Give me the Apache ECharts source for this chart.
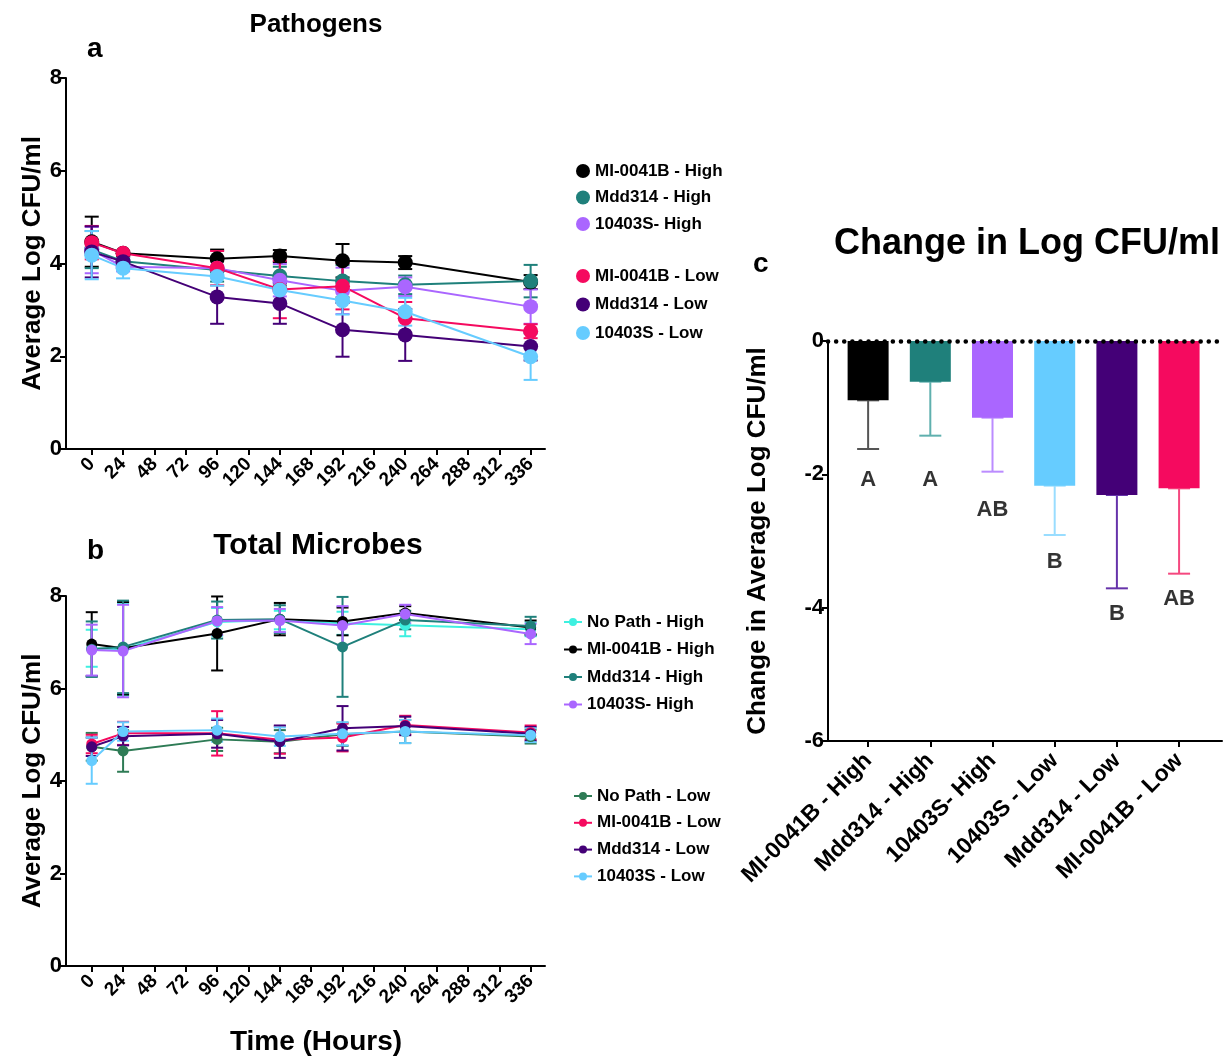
<!DOCTYPE html>
<html>
<head>
<meta charset="utf-8">
<script src="https://cdn.jsdelivr.net/npm/echarts@6/dist/echarts.min.js"></script>
<style>
  html, body { margin: 0; padding: 0; background: #fff; }
  #chart { width: 1225px; height: 1057px; }
</style>
</head>
<body>
<div id="chart"></div>
<script>
// time points (hours) and axis ticks
var hours = [0, 24, 96, 144, 192, 240, 336];
var hourTicks = [0, 24, 48, 72, 96, 120, 144, 168, 192, 216, 240, 264, 288, 312, 336];

// panel a - pathogens (mean, sd)
var aNames = ['MI-0041B - High', 'Mdd314 - High', '10403S- High', 'MI-0041B - Low', 'Mdd314 - Low', '10403S - Low'];
var aMean = [
  [4.47, 4.22, 4.10, 4.16, 4.06, 4.02, 3.60],
  [4.30, 4.05, 3.86, 3.73, 3.62, 3.54, 3.62],
  [4.29, 3.93, 3.90, 3.64, 3.41, 3.50, 3.07],
  [4.45, 4.22, 3.90, 3.44, 3.51, 2.82, 2.54],
  [4.25, 4.04, 3.28, 3.14, 2.57, 2.46, 2.21],
  [4.18, 3.90, 3.72, 3.43, 3.20, 2.96, 1.99]
];
var aErr = [
  [0.54, 0.05, 0.20, 0.13, 0.36, 0.14, 0.15],
  [0.40, 0.10, 0.25, 0.20, 0.35, 0.20, 0.35],
  [0.50, 0.10, 0.20, 0.35, 0.50, 0.20, 0.37],
  [0.36, 0.05, 0.37, 0.62, 0.50, 0.35, 0.15],
  [0.55, 0.10, 0.58, 0.44, 0.58, 0.56, 0.30],
  [0.52, 0.22, 0.20, 0.25, 0.30, 0.30, 0.50]
];

// panel b - total microbes (mean, sd)
var bNames = ['No Path - High', 'MI-0041B - High', 'Mdd314 - High', '10403S- High',
              'No Path - Low', 'MI-0041B - Low', 'Mdd314 - Low', '10403S - Low'];
var bMean = [
  [6.87, 6.85, 7.44, 7.48, 7.41, 7.37, 7.28],
  [6.96, 6.87, 7.19, 7.50, 7.45, 7.63, 7.32],
  [6.85, 6.90, 7.48, 7.50, 6.90, 7.48, 7.35],
  [6.83, 6.81, 7.46, 7.47, 7.36, 7.61, 7.18],
  [4.74, 4.65, 4.90, 4.85, 5.01, 5.07, 4.96],
  [4.80, 5.03, 5.03, 4.89, 4.94, 5.21, 5.05],
  [4.74, 4.97, 5.02, 4.85, 5.14, 5.19, 5.02],
  [4.44, 5.07, 5.10, 4.96, 5.02, 5.07, 4.99]
];
var bErr = [
  [0.40, 1.00, 0.30, 0.20, 0.25, 0.24, 0.15],
  [0.69, 1.00, 0.80, 0.35, 0.30, 0.15, 0.15],
  [0.60, 1.00, 0.40, 0.30, 1.08, 0.20, 0.20],
  [0.55, 1.00, 0.30, 0.25, 0.42, 0.20, 0.22],
  [0.30, 0.45, 0.25, 0.25, 0.25, 0.25, 0.15],
  [0.20, 0.25, 0.48, 0.30, 0.30, 0.20, 0.15],
  [0.20, 0.20, 0.30, 0.35, 0.48, 0.20, 0.15],
  [0.50, 0.20, 0.25, 0.20, 0.25, 0.25, 0.15]
];

// panel c - change in log CFU
var cCats = ['MI-0041B - High', 'Mdd314 - High', '10403S- High', '10403S - Low', 'Mdd314 - Low', 'MI-0041B - Low'];
var cMean = [-0.89, -0.61, -1.15, -2.17, -2.31, -2.21];
var cErr = [0.73, 0.81, 0.81, 0.74, 1.40, 1.28];
var cLetters = ['A', 'A', 'AB', 'B', 'B', 'AB'];
var cLetterY = [-2.08, -2.08, -2.53, -3.31, -4.09, -3.87];

var colA = ['#000000', '#1f807b', '#aa66ff', '#f50a5f', '#440077', '#66ccff'];
var colB = ['#3ef0e0', '#000000', '#1f807b', '#aa66ff', '#2e7b55', '#f50a5f', '#440077', '#66ccff'];
var barColors = ['#000000', '#1f807b', '#aa66ff', '#66ccff', '#440077', '#f50a5f'];
var barErrColors = ['#555555', '#5fb0ae', '#bb8cff', '#99ddff', '#6633aa', '#f5487f'];

var FONT = '"Liberation Sans", Arial, sans-serif';
var chart = echarts.init(document.getElementById('chart'));

function errRender(capW, colorFn) {
  return function (params, api) {
    var x = api.value(0);
    var p1 = api.coord([x, api.value(2)]);
    var p2 = api.coord([x, api.value(1)]);
    var st = { stroke: colorFn ? colorFn(params.dataIndex) : api.visual('color'), lineWidth: 2 };
    return {
      type: 'group',
      children: [
        { type: 'line', shape: { x1: p1[0], y1: p1[1], x2: p2[0], y2: p2[1] }, style: st },
        { type: 'line', shape: { x1: p1[0] - capW / 2, y1: p1[1], x2: p1[0] + capW / 2, y2: p1[1] }, style: st },
        { type: 'line', shape: { x1: p2[0] - capW / 2, y1: p2[1], x2: p2[0] + capW / 2, y2: p2[1] }, style: st }
      ]
    };
  };
}

function timeAxis(gridIndex) {
  return {
    type: 'value', gridIndex: gridIndex, min: -19.7, max: 347,
    axisLine: { onZero: false, lineStyle: { color: '#000', width: 2 } },
    axisTick: { customValues: hourTicks, length: 6, lineStyle: { color: '#000', width: 2 } },
    axisLabel: { customValues: hourTicks, rotate: 45, margin: 12, color: '#000', fontFamily: FONT, fontWeight: 'bold', fontSize: 19 },
    splitLine: { show: false }
  };
}

function logAxis(gridIndex) {
  return {
    type: 'value', gridIndex: gridIndex, min: 0, max: 8, interval: 2,
    name: 'Average Log CFU/ml', nameLocation: 'middle', nameGap: 19,
    nameTextStyle: { color: '#000', fontFamily: FONT, fontWeight: 'bold', fontSize: 26 },
    axisLine: { show: true, onZero: false, lineStyle: { color: '#000', width: 2 } },
    axisTick: { show: true, length: 6, lineStyle: { color: '#000', width: 2 } },
    axisLabel: { margin: 4, color: '#000', fontFamily: FONT, fontWeight: 'bold', fontSize: 22 },
    splitLine: { show: false }
  };
}

var series = [];

// panel a: error bars then lines
aNames.forEach(function (name, i) {
  series.push({
    name: name + ' sd', type: 'custom', xAxisIndex: 0, yAxisIndex: 0,
    itemStyle: { color: colA[i] }, renderItem: errRender(14), z: 2,
    encode: { x: 0, y: [1, 2] },
    data: hours.map(function (h, k) { return [h, aMean[i][k] - aErr[i][k], aMean[i][k] + aErr[i][k]]; })
  });
});
aNames.forEach(function (name, i) {
  series.push({
    name: name, type: 'line', xAxisIndex: 0, yAxisIndex: 0,
    symbol: 'circle', symbolSize: 15, z: 3,
    itemStyle: { color: colA[i] }, lineStyle: { color: colA[i], width: 2 },
    data: hours.map(function (h, k) { return [h, aMean[i][k]]; })
  });
});

// panel b
bNames.forEach(function (name, i) {
  series.push({
    name: name + ' sd', type: 'custom', xAxisIndex: 1, yAxisIndex: 1,
    itemStyle: { color: colB[i] }, renderItem: errRender(12), z: 2,
    encode: { x: 0, y: [1, 2] },
    data: hours.map(function (h, k) { return [h, bMean[i][k] - bErr[i][k], bMean[i][k] + bErr[i][k]]; })
  });
});
bNames.forEach(function (name, i) {
  series.push({
    name: name, type: 'line', xAxisIndex: 1, yAxisIndex: 1,
    symbol: 'circle', symbolSize: 11, z: 3,
    itemStyle: { color: colB[i] }, lineStyle: { color: colB[i], width: 2 },
    data: hours.map(function (h, k) { return [h, bMean[i][k]]; })
  });
});

// panel c
series.push({
  name: 'change sd', type: 'custom', xAxisIndex: 2, yAxisIndex: 2, z: 2,
  renderItem: errRender(22, function (idx) { return barErrColors[idx]; }),
  encode: { x: 0, y: [1, 2] },
  data: cMean.map(function (v, k) { return [k, v - cErr[k], v]; })
});
series.push({
  name: 'change', type: 'bar', xAxisIndex: 2, yAxisIndex: 2, barWidth: 41, z: 3,
  itemStyle: { color: function (p) { return barColors[p.dataIndex]; } },
  data: cMean.map(function (v, k) { return [k, v]; }),
  markLine: {
    silent: true, symbol: 'none', label: { show: false },
    lineStyle: { color: '#000', type: [0.1, 8], width: 4.5, cap: 'round' },
    data: [{ yAxis: 0 }]
  }
});
series.push({
  name: 'letters', type: 'scatter', xAxisIndex: 2, yAxisIndex: 2, symbolSize: 0,
  label: {
    show: true, position: 'inside', color: '#000', fontFamily: FONT, fontWeight: 'bold', fontSize: 22,
    formatter: function (p) { return cLetters[p.dataIndex]; }
  },
  data: cLetterY.map(function (v, k) { return [k, v]; })
});

var legendText = { color: '#000', fontFamily: FONT, fontWeight: 'bold', fontSize: 17, lineHeight: 20 };

var option = {
  animation: false,
  backgroundColor: '#fff',
  title: [
    { text: 'Pathogens', left: 311, top: 7, textAlign: 'center', textStyle: { fontFamily: FONT, fontWeight: 'bold', fontSize: 26, color: '#000' } },
    { text: 'a', left: 82, top: 30, textStyle: { fontFamily: FONT, fontWeight: 'bold', fontSize: 28, color: '#000' } },
    { text: 'Total Microbes', left: 313, top: 526, textAlign: 'center', textStyle: { fontFamily: FONT, fontWeight: 'bold', fontSize: 30, color: '#000' } },
    { text: 'b', left: 82, top: 532, textStyle: { fontFamily: FONT, fontWeight: 'bold', fontSize: 28, color: '#000' } },
    { text: 'Time (Hours)', left: 311, top: 1023, textAlign: 'center', textStyle: { fontFamily: FONT, fontWeight: 'bold', fontSize: 28, color: '#000' } },
    { text: 'Change in Log CFU/ml', left: 1022, top: 221, textAlign: 'center', textStyle: { fontFamily: FONT, fontWeight: 'bold', fontSize: 36, color: '#000' } },
    { text: 'c', left: 748, top: 245, textStyle: { fontFamily: FONT, fontWeight: 'bold', fontSize: 28, color: '#000' } }
  ],
  legend: [
    { data: aNames.slice(0, 3), orient: 'vertical', left: 571, top: 156, icon: 'circle', itemWidth: 14, itemHeight: 14, itemGap: 6.5, textStyle: legendText, selectedMode: false },
    { data: aNames.slice(3), orient: 'vertical', left: 571, top: 261, icon: 'circle', itemWidth: 14, itemHeight: 14, itemGap: 8.5, textStyle: legendText, selectedMode: false },
    { data: bNames.slice(0, 4), orient: 'vertical', left: 558, top: 607, itemWidth: 18, itemHeight: 10, itemGap: 7.5, textStyle: legendText, selectedMode: false },
    { data: bNames.slice(4), orient: 'vertical', left: 568, top: 781, itemWidth: 18, itemHeight: 10, itemGap: 6.8, textStyle: legendText, selectedMode: false }
  ],
  grid: [
    { left: 66, top: 78, width: 479, height: 371 },
    { left: 66, top: 596, width: 479, height: 370 },
    { left: 828, top: 341, width: 394, height: 400 }
  ],
  xAxis: [
    timeAxis(0),
    timeAxis(1),
    {
      type: 'value', gridIndex: 2, min: -0.645, max: 5.69,
      axisLine: { onZero: false, lineStyle: { color: '#000', width: 2 } },
      axisTick: { customValues: [0, 1, 2, 3, 4, 5], length: 6, lineStyle: { color: '#000', width: 2 } },
      axisLabel: {
        customValues: [0, 1, 2, 3, 4, 5], rotate: 45, margin: 16, color: '#000',
        fontFamily: FONT, fontWeight: 'bold', fontSize: 23,
        formatter: function (v) { return cCats[Math.round(v)]; }
      },
      splitLine: { show: false }
    }
  ],
  yAxis: [
    logAxis(0),
    logAxis(1),
    {
      type: 'value', gridIndex: 2, min: -6, max: 0, interval: 2,
      name: 'Change in Average Log CFU/ml', nameLocation: 'middle', nameGap: 57,
      nameTextStyle: { color: '#000', fontFamily: FONT, fontWeight: 'bold', fontSize: 26 },
      axisLine: { show: true, onZero: false, lineStyle: { color: '#000', width: 2 } },
      axisTick: { show: true, length: 6, lineStyle: { color: '#000', width: 2 } },
      axisLabel: { margin: 4, color: '#000', fontFamily: FONT, fontWeight: 'bold', fontSize: 22 },
      splitLine: { show: false }
    }
  ],
  series: series
};

chart.setOption(option);
</script>
</body>
</html>
